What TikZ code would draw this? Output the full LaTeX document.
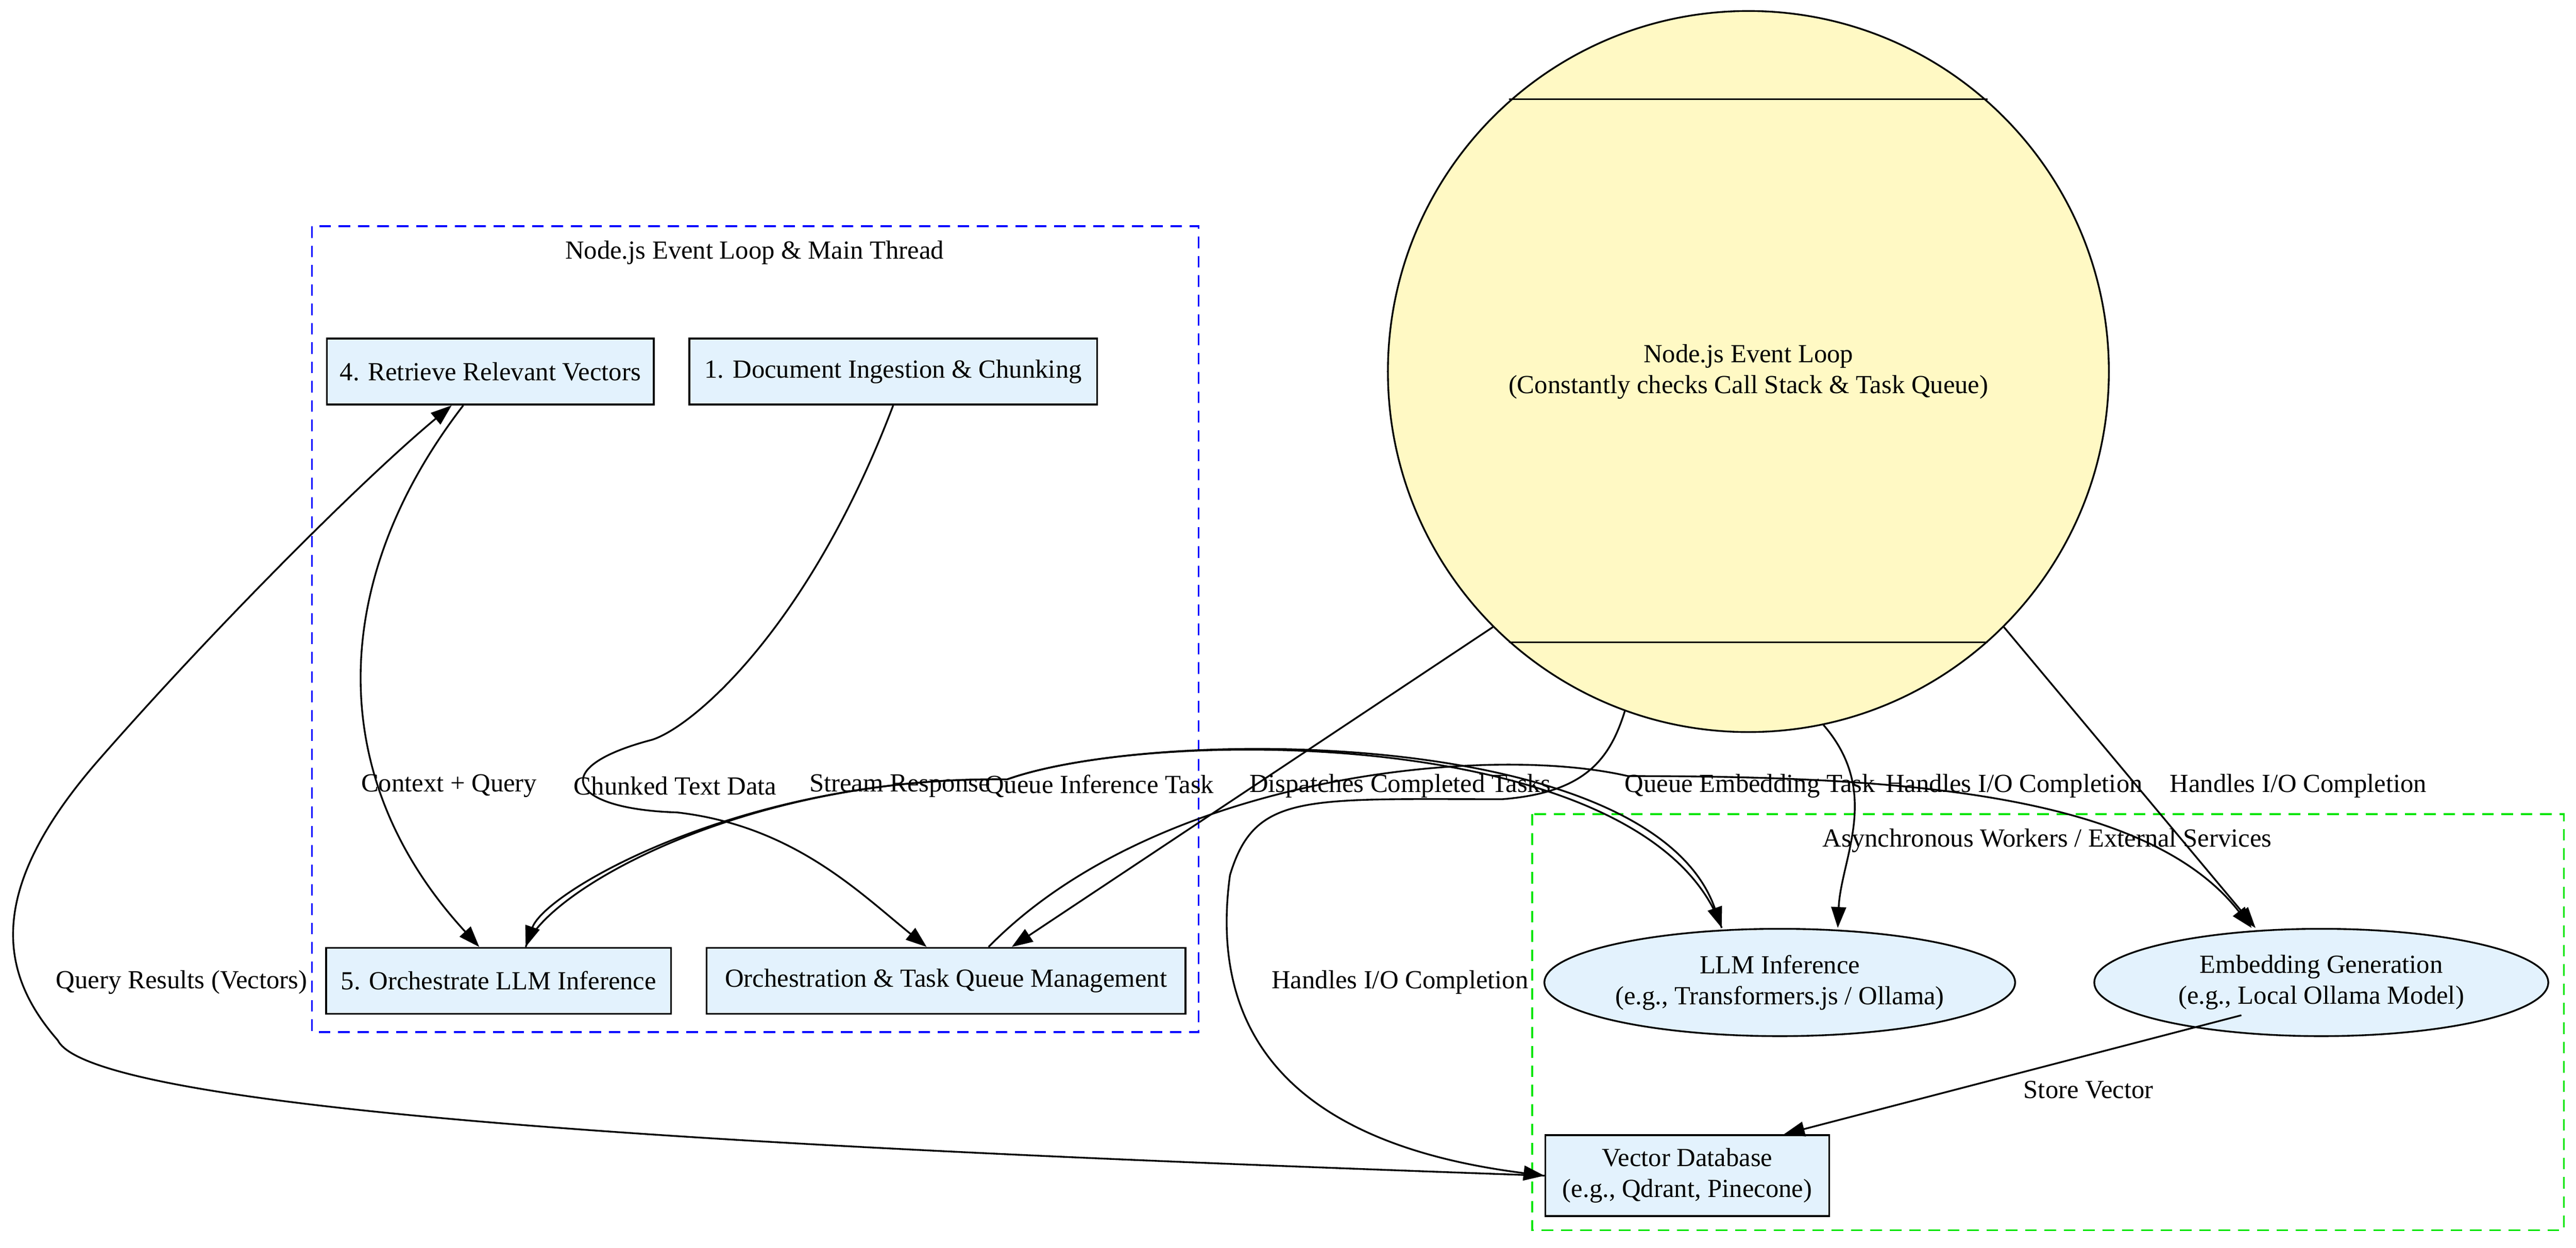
\documentclass[tikz,border=0pt]{standalone}
\usepackage{fontspec}
\setmainfont{Liberation Serif}
\usetikzlibrary{arrows.meta,shapes.geometric}

\definecolor{boxFill}{HTML}{E3F2FD}
\definecolor{loopFill}{HTML}{FFF9C4}

\tikzset{
    stepBox/.style = {draw, fill = boxFill, minimum height = 1.2cm, inner xsep = 6pt, align = center},
    workerBox/.style = {draw, ellipse, fill = boxFill, minimum width = 8.4cm, minimum height = 1.95cm, align = center, inner sep = 1pt},
    edgeLabel/.style = {fill = none, inner sep = 1pt},
    flow/.style = {-{Triangle[length = 3.8mm, width = 2.7mm]}},
}

\begin{document}
\begin{tikzpicture}[x = 0.03cm, y = -0.03cm, line width = 0.9pt, font = \fontsize{13.5}{16}\selectfont]

    \useasboundingbox (0,0) rectangle (1560.3,755.8);

    %% Drawing the clusters
    \draw [blue, dash pattern = on 6pt off 4pt]
    (189,137) rectangle (726,625);
    \node (mainLabel) at (457,153) {Node.js Event Loop \& Main Thread};

    \draw [green!90!black, dash pattern = on 6pt off 4pt]
    (928,493) rectangle (1553,745);
    \node (asyncLabel) at (1240,509) {Asynchronous Workers / External Services};

    %% Drawing the event loop
    \node [draw, circle, fill = loopFill, minimum size = 13.1cm, align = center]
    (eventLoop) at (1059,225)
    {Node.js Event Loop \\ (Constantly checks Call Stack \& Task Queue)};
    \draw (914,60) -- (1204,60);
    \draw (914,389) -- (1204,389);

    %% Drawing the steps
    \node [stepBox, minimum width = 5.94cm] (retrieve) at (297,225) {4. Retrieve Relevant Vectors};
    \node [stepBox, minimum width = 7.41cm] (ingest) at (541,225) {1. Document Ingestion \& Chunking};
    \node [stepBox, minimum width = 6.27cm] (orchLLM) at (302,594) {5. Orchestrate LLM Inference};
    \node [stepBox, minimum width = 8.7cm] (taskQueue) at (573,594) {Orchestration \& Task Queue Management};

    %% Drawing the workers
    \node [workerBox] (llm) at (1078,595) {LLM Inference \\ (e.g., Transformers.js / Ollama)};
    \node [workerBox, minimum width = 8.25cm] (embed) at (1406,595) {Embedding Generation \\ (e.g., Local Ollama Model)};
    \node [stepBox, minimum width = 5.16cm, minimum height = 1.47cm] (vectorDB) at (1022,712) {Vector Database \\ (e.g., Qdrant, Pinecone)};

    %% Drawing the connectors
    \draw [flow] ([xshift = -14] retrieve.south) .. controls (200,350) and (195,470) .. ([xshift = -10] orchLLM.north);
    \draw [flow] (ingest.south) .. controls (490,380) and (420,440) .. (395,448)
    .. controls (330,465) and (345,490) .. (410,492) .. controls (480,500) and (520,540) .. ([xshift = -10] taskQueue.north);
    \draw [flow] ([xshift = -30] llm.north) .. controls (1000,440) and (700,440) .. (610,472)
    .. controls (450,470) and (330,540) .. ([xshift = 14] orchLLM.north);
    \draw [flow] ([xshift = 14] orchLLM.north) .. controls (330,540) and (450,470) .. (610,472)
    .. controls (700,440) and (1000,440) .. ([xshift = -30] llm.north);
    \draw [flow] (eventLoop.225) -- ([xshift = 34] taskQueue.north);
    \draw [flow] ([xshift = 22] taskQueue.north) .. controls (700,470) and (900,450) .. (986,470)
    .. controls (1150,470) and (1300,480) .. ([xshift = -36] embed.north);
    \draw [flow] (eventLoop.282) .. controls (1140,480) and (1115,520) .. ([xshift = 30] llm.north);
    \draw [flow] (eventLoop.315) -- ([xshift = -34] embed.north);
    \draw [flow] (eventLoop.250) .. controls (975,460) and (960,480) .. (910,484)
    .. controls (790,484) and (760,480) .. (745,530) .. controls (730,640) and (800,695) .. (vectorDB.west);
    \draw [flow] ([xshift = 42, yshift = 3] embed.south west) -- ([xshift = -24] vectorDB.north east);
    \draw [flow] (vectorDB.west) .. controls (600,700) and (60,680) .. (35,630)
    .. controls (0,590) and (-10,540) .. (60,460) .. controls (130,380) and (220,290) .. ([xshift = -20] retrieve.south);

    %% Drawing the connector labels
    \node [edgeLabel] (contextLabel) at (272,476) {Context + Query};
    \node [edgeLabel] (chunkLabel) at (409,476) {Chunked Text Data};
    \node [edgeLabel] (streamLabel) at (545,476) {Stream Response};
    \node [edgeLabel] (queueInfLabel) at (666,476) {Queue Inference Task};
    \node [edgeLabel] (dispatchLabel) at (848,476) {Dispatches Completed Tasks};
    \node [edgeLabel] (queueEmbLabel) at (1060,476) {Queue Embedding Task};
    \node [edgeLabel] (ioLlmLabel) at (1220,476) {Handles I/O Completion};
    \node [edgeLabel] (ioEmbLabel) at (1392,476) {Handles I/O Completion};
    \node [edgeLabel] (ioDbLabel) at (848,595) {Handles I/O Completion};
    \node [edgeLabel] (storeLabel) at (1265,660) {Store Vector};
    \node [edgeLabel] (queryLabel) at (110,595) {Query Results (Vectors)};

\end{tikzpicture}
\end{document}
